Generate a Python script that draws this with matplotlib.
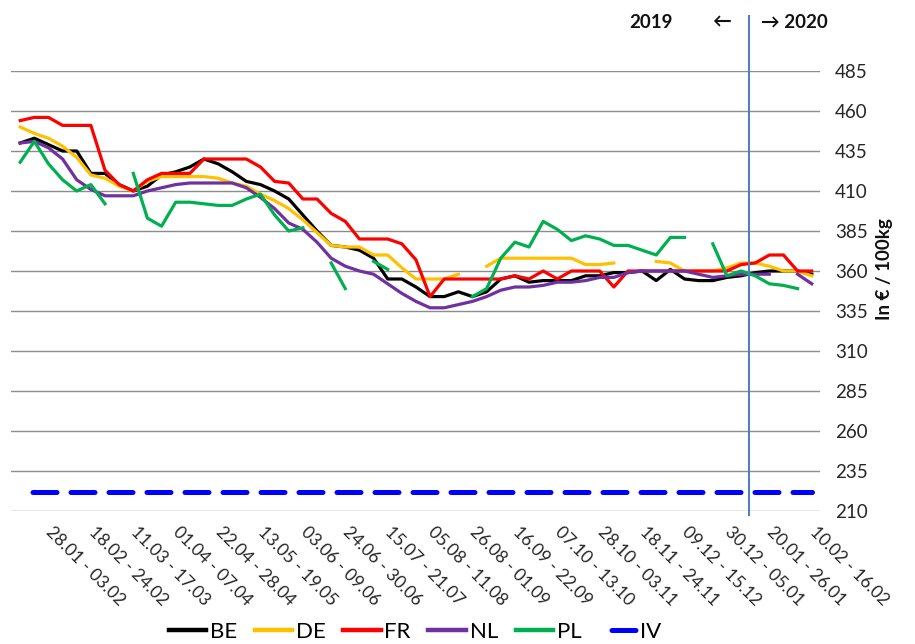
import numpy as np
import matplotlib
matplotlib.use("Agg")
import matplotlib.pyplot as plt
import matplotlib.transforms as mtransforms

plt.rcParams['font.family'] = ['Lato', 'DejaVu Sans']

nan = np.nan
weeks = list(range(57))
tick_pos = list(range(2, 57, 3))
tick_labels = ["28.01 - 03.02", "18.02 - 24.02", "11.03 - 17.03", "01.04 - 07.04",
               "22.04 - 28.04", "13.05 - 19.05", "03.06 - 09.06", "24.06 - 30.06",
               "15.07 - 21.07", "05.08 - 11.08", "26.08 - 01.09", "16.09 - 22.09",
               "07.10 - 13.10", "28.10 - 03.11", "18.11 - 24.11", "09.12 - 15.12",
               "30.12 - 05.01", "20.01 - 26.01", "10.02 - 16.02"]
y_ticks = list(range(210, 486, 25))

BE = [440, 443, 439, 435, 435, 421, 421, 414, 410, 413, 420, 422, 425, 430, 427, 422,
      416, 414, 410, 405, 395, 385, 376, 375, 373, 368, 355, 355, 350, 344, 344, 347,
      344, 347, 355, 357, 353, 354, 354, 354, 357, 357, 359, 359, 360, 354, 361, 355,
      354, 354, 356, 357, 359, 360, 360, 360, 358]
DE = [450, 446, 443, 438, 431, 420, 418, 413, 410, 416, 419, 419, 419, 419, 418, 415,
      413, 408, 404, 399, 392, 384, 376, 375, 375, 370, 370, 362, 355, 355, 355, 358,
      nan, 363, 368, 368, 368, 368, 368, 368, 364, 364, 365, nan, nan, 366, 365, 360,
      360, 360, 362, 365, 365, 363, 360, 360, 357]
FR = [454, 456, 456, 451, 451, 451, 423, 414, 410, 417, 421, 421, 421, 430, 430, 430,
      430, 425, 416, 415, 405, 405, 396, 391, 380, 380, 380, 377, 367, 344, 355, 355,
      355, 355, 355, 357, 355, 360, 355, 360, 360, 360, 350, 360, 360, 360, 360, 360,
      360, 360, 360, 364, 365, 370, 370, 360, 360]
NL = [440, 441, 437, 430, 417, 411, 407, 407, 407, 410, 412, 414, 415, 415, 415, 415,
      412, 406, 399, 390, 386, 378, 368, 363, 360, 358, 352, 346, 341, 337, 337, 339,
      341, 344, 348, 350, 350, 351, 353, 353, 354, 356, 356, 359, 360, 360, 360, 360,
      358, 356, 357, 358, 358, 358, nan, 358, 352]
PL = [428, 441, 427, 417, 410, 414, 402, nan, 421, 393, 388, 403, 403, 402, 401, 401,
      405, 408, 395, 385, 387, nan, 365, 349, nan, 366, 361, nan, nan, nan, nan, nan,
      344, 349, 368, 378, 375, 391, 386, 379, 382, 380, 376, 376, 373, 370, 381, 381,
      nan, 377, 357, 360, 357, 352, 351, 349, nan]
IV = [222] * 57

series_names = ["BE", "DE", "FR", "NL", "PL", "IV"]
series_colors = ["#000000", "#FFC000", "#FF0000", "#7030A0", "#00B050", "#0000FF"]
year_break = 51.55

fig = plt.figure(figsize=(9.15, 6.44), dpi=100)
ax = fig.add_axes([11 / 915, 1 - 511 / 644, (819.5 - 11) / 915, 440 / 644])
ax.set_xlim(-0.65, 56.55)
ax.set_ylim(210, 485)

for s in ax.spines.values():
    s.set_visible(False)
ax.set_yticks(y_ticks)
ax.grid(axis='y', color='#8c8c8c', lw=1.0)
ax.grid(axis='x', visible=False)
ax.set_axisbelow(True)

handles = []
for vals, name, col in zip([BE, DE, FR, NL, PL], series_names[:5], series_colors[:5]):
    h, = ax.plot(weeks, vals, color=col, lw=2.3, label=name, solid_joinstyle='round')
    handles.append(h)
h, = ax.plot(weeks, IV, color=series_colors[5], lw=3.6, ls=(5.1, (4.8, 2.8)),
             dash_capstyle='round', label="IV")
handles.append(h)

ax.yaxis.tick_right()
ax.tick_params(axis='both', length=0)
ax.tick_params(axis='y', pad=11, labelsize=13.5, labelcolor='#262626')
ax.set_xticks(tick_pos)
ax.set_xticklabels(tick_labels, rotation=-45, ha='left', va='top',
                   rotation_mode='anchor', fontsize=12.5, color='#262626')
ax.tick_params(axis='x', pad=9)
shift = mtransforms.ScaledTranslation(6 / 100, 0, fig.dpi_scale_trans)
for lab in ax.get_xticklabels():
    lab.set_transform(lab.get_transform() + shift)

ax.text(1.081, 0.55, "In € / 100kg", transform=ax.transAxes, rotation=90,
        ha='center', va='center', fontsize=13.5, fontweight='bold', color='#111111')

trans = mtransforms.blended_transform_factory(ax.transData, ax.transAxes)
ax.plot([year_break, year_break], [-0.01, 1.125], transform=trans, color='#4F81BD',
        lw=1.5, clip_on=False)
ax.text(44.6, 1.111, "2019", transform=trans, ha='center', va='center',
        fontsize=13.5, fontweight='bold', color='#111111')
ax.text(49.6, 1.111, "←", transform=trans, ha='center', va='center',
        fontsize=13.5, fontweight='bold', color='#111111')
ax.text(52.4, 1.111, "→ 2020", transform=trans, ha='left', va='center',
        fontsize=13.5, fontweight='bold', color='#111111')

leg = fig.legend(handles, series_names, loc='center', bbox_to_anchor=(415 / 915, 1 - 632 / 644),
                 ncol=6, frameon=False, fontsize=16, handlelength=1.7, handletextpad=0.15,
                 columnspacing=0.8)
for ln in leg.get_lines()[:5]:
    ln.set_linewidth(3.2)

fig.savefig("out.png", dpi=100)
